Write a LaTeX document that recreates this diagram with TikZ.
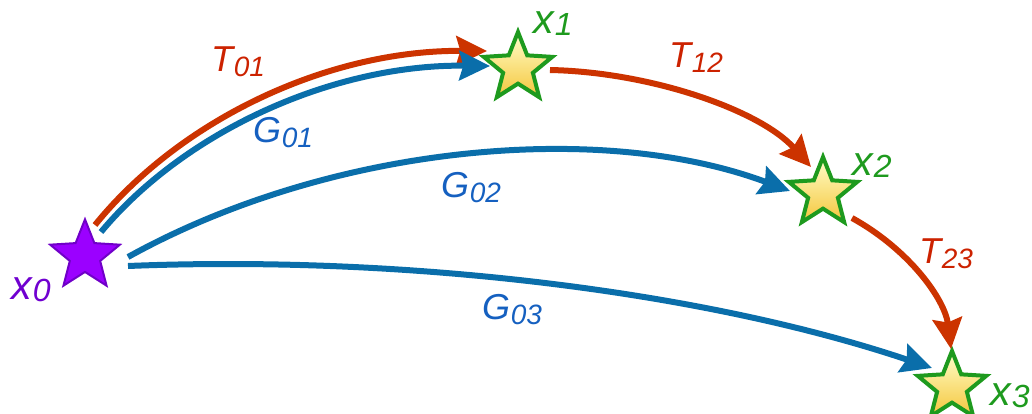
\documentclass[tikz,border=0pt]{standalone}
\usepackage{fontspec}
\setmainfont{Liberation Sans}
\usetikzlibrary{shapes.geometric,arrows.meta,calc}
\definecolor{tred}{HTML}{CC3300}
\definecolor{tlab}{HTML}{CC2200}
\definecolor{gblue}{HTML}{0A6EAA}
\definecolor{glab}{HTML}{1560C0}
\definecolor{xgreen}{HTML}{1E9A1E}
\definecolor{pfill}{HTML}{9B00FF}
\definecolor{pdraw}{HTML}{7000C8}
\definecolor{plab}{HTML}{7000D0}
\newcommand\edgelab[2]{\itshape\fontsize{27}{27}\selectfont #1\kern0.5pt\raisebox{-3.8pt}{\fontsize{21}{21}\selectfont #2}}
\newcommand\statelab[2]{\itshape\fontsize{31}{31}\selectfont #1\kern0.5pt\raisebox{-1.5pt}{\fontsize{24}{24}\selectfont #2}}
\tikzset{
  goal/.style={star, star points=5, star point ratio=2.3, minimum size=54pt, inner sep=0pt,
    draw=xgreen, line width=3pt, top color=yellow!20!white, bottom color={rgb,255:red,245;green,198;blue,60}},
  start/.style={star, star points=5, star point ratio=2.3, minimum size=55pt, inner sep=0pt,
    draw=pdraw, line width=1.5pt, fill=pfill},
  tedge/.style={draw=tred, line width=4.5pt, -{Stealth[length=23pt,width=22pt,inset=3pt]}},
  gedge/.style={draw=gblue, line width=4.5pt, -{Stealth[length=23pt,width=22pt,inset=3pt]}},
  tl/.style={text=tlab, inner sep=0pt},
  gl/.style={text=glab, inner sep=0pt},
  xl/.style={text=xgreen, inner sep=0pt}
}
\begin{document}
\begin{tikzpicture}[x=0.75pt,y=-0.75pt]
\useasboundingbox (0,0) rectangle (1032,414);
\node[start] (x0) at (85,256) {};
\node[goal] (x1) at (518,68) {};
\node[goal] (x2) at (823,193) {};
\node[goal] (x3) at (952,387) {};
\node[text=plab, inner sep=0pt] (l0) at (31,290) {\statelab{x}{0}};
\node[xl] (l1) at (553,24) {\statelab{x}{1}};
\node[xl] (l2) at (872,166) {\statelab{x}{2}};
\node[xl] (l3) at (1010,396) {\statelab{x}{3}};
% connectors
\draw[tedge] ($(x0.center)+(10,-31)$) .. controls +(85,-105) and +(-160,-1) .. ($(x1.center)+(-31,-17)$);
\draw[gedge] ($(x0.center)+(16,-24)$) .. controls +(85,-102) and +(-155,-2) .. ($(x1.center)+(-28,-2)$);
\draw[gedge] ($(x0.center)+(43,1)$) .. controls +(202,-112) and +(-190,-71) .. ($(x2.center)+(-33,-2)$);
\draw[gedge] ($(x0.center)+(43,10)$) .. controls +(272,-11) and +(-232,-78) .. ($(x3.center)+(-20,-19)$);
\draw[tedge] ($(x1.center)+(32,2)$) .. controls +(100,2) and +(-51,-57) .. ($(x2.center)+(-12,-26)$);
\draw[tedge] ($(x2.center)+(29,25)$) .. controls +(58,32) and +(-6,-49) .. ($(x3.center)+(-1,-38)$);
% labels
\node[tl] (lt01) at (238,62) {\edgelab{T}{01}};
\node[gl] (lg01) at (283,133) {\edgelab{G}{01}};
\node[gl] (lg02) at (471,188) {\edgelab{G}{02}};
\node[gl] (lg03) at (512,310) {\edgelab{G}{03}};
\node[tl] (lt12) at (696,58) {\edgelab{T}{12}};
\node[tl] (lt23) at (946,254) {\edgelab{T}{23}};
\end{tikzpicture}
\end{document}
